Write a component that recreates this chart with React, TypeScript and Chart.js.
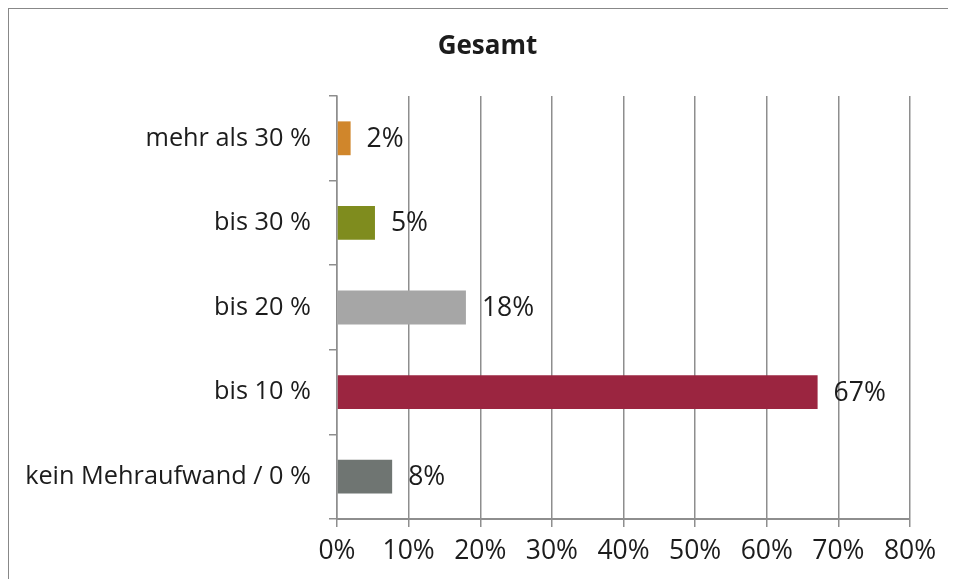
import React, { useEffect, useRef } from "react";
import { Chart, registerables } from "chart.js";

Chart.register(...registerables);

const categories: string[] = [
  "mehr als 30 %",
  "bis 30 %",
  "bis 20 %",
  "bis 10 %",
  "kein Mehraufwand / 0 %",
];
const values: number[] = [1.9, 5.3, 18.0, 67.1, 7.7];
const valueLabels: string[] = ["2%", "5%", "18%", "67%", "8%"];
const barColors: string[] = ["#D0862B", "#7F8C1E", "#A6A6A6", "#9B2540", "#6F7572"];
const xTicks: number[] = [0, 10, 20, 30, 40, 50, 60, 70, 80];
const title = "Gesamt";

const FONT = "'Open Sans', 'Noto Sans', sans-serif";
const TEXT = "#1c1c1c";
const GRID = "#8e8e8e";

const valueLabelPlugin = {
  id: "valueLabels",
  afterDatasetsDraw(chart: any) {
    const meta = chart.getDatasetMeta(0);
    const ctx = chart.ctx;
    ctx.save();
    ctx.font = `26.5px ${FONT}`;
    ctx.fillStyle = TEXT;
    ctx.textAlign = "left";
    ctx.textBaseline = "middle";
    meta.data.forEach((el: any, i: number) => {
      ctx.fillText(valueLabels[i], el.x + 16, el.y + 1);
    });
    ctx.restore();
  },
};

const titlePlugin = {
  id: "customTitle",
  afterDraw(chart: any) {
    const ctx = chart.ctx;
    ctx.save();
    ctx.font = `bold 26px ${FONT}`;
    ctx.fillStyle = TEXT;
    ctx.textAlign = "center";
    ctx.textBaseline = "middle";
    ctx.fillText(title, 478.5, 37.6);
    ctx.restore();
  },
};

export default function App() {
  const ref = useRef<HTMLCanvasElement | null>(null);
  useEffect(() => {
    document.documentElement.style.overflow = "hidden";
    document.body.style.overflow = "hidden";
    if (!ref.current) return;
    const chart = new Chart(ref.current, {
      type: "bar",
      data: {
        labels: categories,
        datasets: [
          {
            data: values,
            backgroundColor: barColors,
            borderWidth: 0,
            barPercentage: 0.4,
            categoryPercentage: 1.0,
          },
        ],
      },
      options: {
        indexAxis: "y",
        responsive: false,
        animation: false,
        devicePixelRatio: 1,
        layout: { padding: { left: 8, right: 46, top: 87, bottom: 0 } },
        plugins: {
          legend: { display: false },
          tooltip: { enabled: false },
          title: { display: false },
        },
        scales: {
          x: {
            type: "linear",
            min: 0,
            max: 80,
            afterBuildTicks: (scale: any) => {
              scale.ticks = xTicks.map((v) => ({ value: v }));
            },
            afterFit: (scale: any) => {
              scale.height = 60;
            },
            ticks: {
              callback: (v: any) => `${v}%`,
              color: TEXT,
              font: { family: FONT, size: 26.5, lineHeight: 1.2 },
              padding: 9,
              maxRotation: 0,
              autoSkip: false,
            },
            grid: {
              color: GRID,
              lineWidth: 1.5,
              drawOnChartArea: true,
              drawTicks: true,
              tickLength: 8,
            },
            border: { display: true, color: GRID, width: 2 },
          },
          y: {
            afterFit: (scale: any) => {
              scale.width = 320;
            },
            ticks: {
              color: TEXT,
              font: { family: FONT, size: 25.3, lineHeight: 1.2 },
              padding: 18,
            },
            grid: {
              color: GRID,
              lineWidth: 1.5,
              drawOnChartArea: false,
              drawTicks: true,
              tickLength: 8,
              offset: true,
            },
            border: { display: true, color: GRID, width: 1.5 },
          },
        },
      },
      plugins: [valueLabelPlugin, titlePlugin],
    });
    return () => chart.destroy();
  }, []);

  return (
    <div
      style={{
        width: 947,
        height: 570,
        borderTop: "1px solid #888",
        borderLeft: "1px solid #888",
        background: "#fff",
      }}
    >
      <canvas ref={ref} width={947} height={570} style={{ display: "block" }} />
    </div>
  );
}
